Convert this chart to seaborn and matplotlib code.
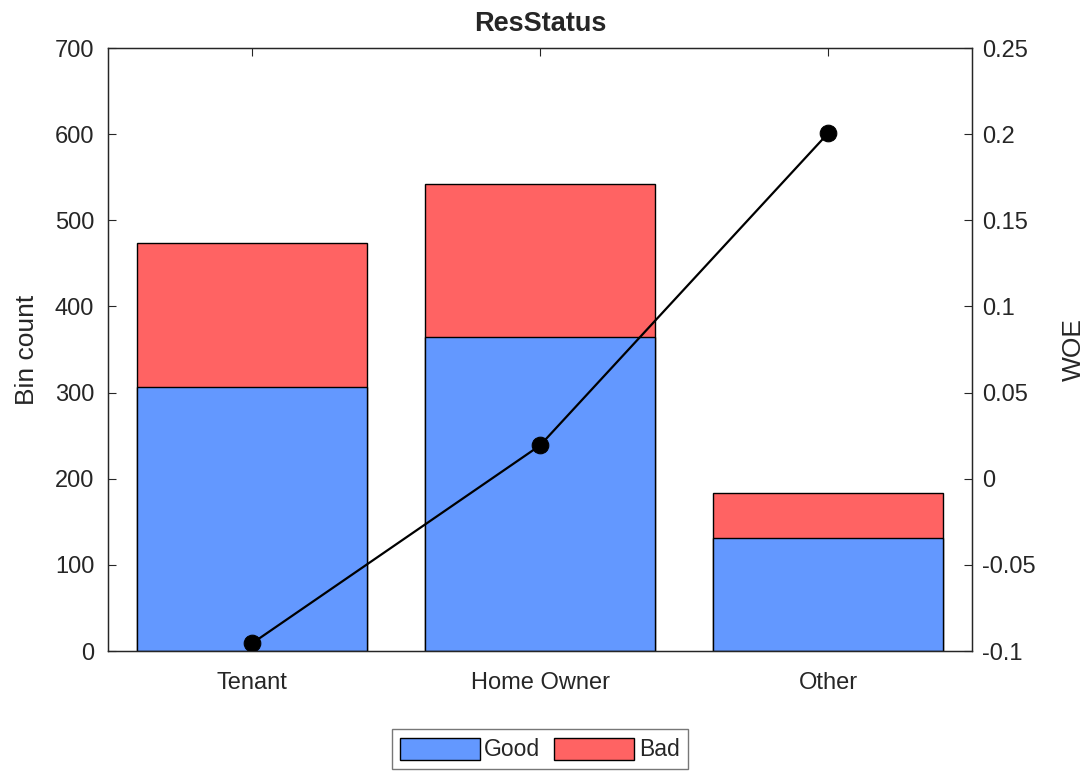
import matplotlib
matplotlib.use("Agg")
import matplotlib.pyplot as plt
import seaborn as sns
import pandas as pd
from matplotlib.patches import Patch

# data
categories = ["Tenant", "Home Owner", "Other"]
good = [307, 365, 131]
bad = [167, 177, 53]
woe = [-0.095564, 0.019329, 0.20049]

good_color = "#6398FF"
bad_color = "#FF6363"

sns.set_style("white")
plt.rcParams["font.family"] = ["Liberation Sans", "DejaVu Sans"]
plt.rcParams["font.size"] = 17

df = pd.DataFrame({"cat": categories, "good": good, "bad": bad, "woe": woe})
df["total"] = df["good"] + df["bad"]

fig = plt.figure(figsize=(10.88, 7.71), dpi=100)
ax = fig.add_axes([0.0993, 0.1556, 0.7941, 0.7821])

# stacked bars: total (bad on top) first, then good over it
sns.barplot(data=df, x="cat", y="total", color=bad_color, saturation=1,
            edgecolor="black", linewidth=1, width=0.8, ax=ax)
sns.barplot(data=df, x="cat", y="good", color=good_color, saturation=1,
            edgecolor="black", linewidth=1, width=0.8, ax=ax)

ax.set_xlim(-0.5, 2.5)
ax.set_ylim(0, 700)
ax.set_yticks(range(0, 701, 100))
ax.set_xlabel("")
ax.set_ylabel("Bin count", fontsize=19, labelpad=11)
ax.set_title("ResStatus", fontsize=19.5, fontweight="bold", pad=12)
ax.tick_params(axis="both", direction="in", length=6, colors="#262626",
               labelcolor="#262626", labelsize=17, top=True, right=False)
ax.tick_params(axis="x", pad=15)
ax.tick_params(axis="y", pad=10)
for s in ax.spines.values():
    s.set_visible(True)
    s.set_color("#262626")
    s.set_linewidth(1)

# WOE on the right axis
ax2 = ax.twinx()
sns.lineplot(x=[0, 1, 2], y=df["woe"], color="black", marker="o",
             markersize=12, markeredgecolor="black", linewidth=1.6, ax=ax2)
ax2.set_ylim(-0.1, 0.25)
ax2.set_yticks([-0.1, -0.05, 0, 0.05, 0.1, 0.15, 0.2, 0.25])
ax2.set_yticklabels(["-0.1", "-0.05", "0", "0.05", "0.1", "0.15", "0.2", "0.25"])
ax2.set_ylabel("WOE", fontsize=19, labelpad=19)
ax2.tick_params(axis="y", direction="in", length=6, pad=7, colors="#262626",
                labelcolor="#262626", labelsize=17)
for s in ax2.spines.values():
    s.set_color("#262626")

handles = [Patch(facecolor=good_color, edgecolor="black", label="Good"),
           Patch(facecolor=bad_color, edgecolor="black", label="Bad")]
leg = fig.legend(handles=handles, loc="center", bbox_to_anchor=(0.496, 0.028),
                 ncol=2, frameon=True, fancybox=False, fontsize=16.5,
                 handlelength=3.5, handleheight=1.1, handletextpad=0.2,
                 columnspacing=0.6, borderpad=0.35, borderaxespad=0)
leg.get_frame().set_edgecolor("#555555")
leg.get_frame().set_linewidth(1)

fig.savefig("out.png", dpi=100)
